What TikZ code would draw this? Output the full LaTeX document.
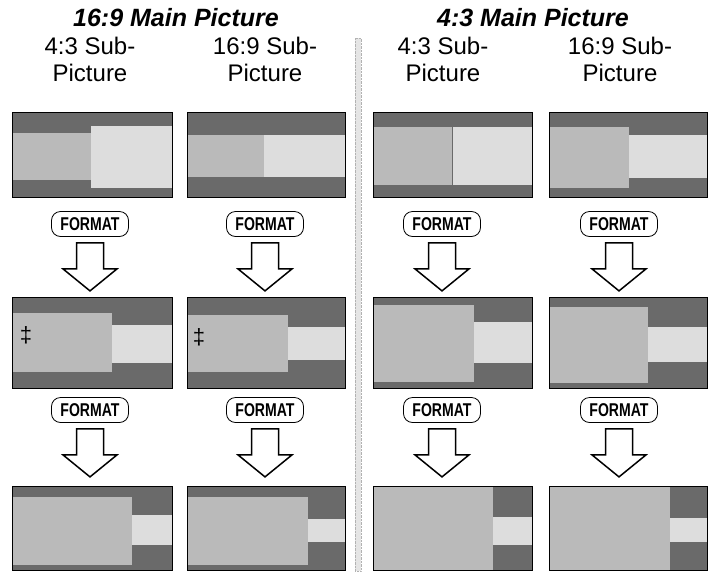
\documentclass[tikz,border=0pt]{standalone}
\usepackage{fontspec}
\setmainfont{Liberation Sans}
\newfontfamily\fmtfont[FakeStretch=0.76]{Liberation Sans Bold}
\usetikzlibrary{positioning}
\definecolor{scrdark}{HTML}{6A6A6A}
\definecolor{scrmid}{HTML}{BABABA}
\definecolor{scrlite}{HTML}{DDDDDD}

\begin{document}
\begin{tikzpicture}[x=1pt, y=-1pt, every node/.style={inner sep=0pt},
  head/.style={font=\fontsize{25}{25}\selectfont\bfseries\itshape},
  sub/.style={font=\fontsize{24}{27}\selectfont, align=center},
  fmtbtn/.style={draw, thick, rounded corners=9pt, minimum width=77pt, minimum height=25pt, font=\fmtfont\fontsize{18.5}{18.5}\selectfont},
  hollow/.style={draw, line width=1.5pt, fill=white, line join=miter},
  frame/.style={draw=black, line width=0.8pt},
  dagmark/.style={font=\fontsize{22}{22}\selectfont}]
\useasboundingbox (0,0) rectangle (710,571);

% divider between the two halves
\draw[gray!60, fill=gray!20, densely dotted] (355,38) rectangle (361,571);

% headings
\node[head] (main169) at (176,18) {16:9 Main Picture};
\node[head] (main43) at (533,18) {4:3 Main Picture};
\node[sub] (sub1) at (90,59) {4:3 Sub-\\Picture};
\node[sub] (sub2) at (265,59) {16:9 Sub-\\Picture};
\node[sub] (sub3) at (443,59) {4:3 Sub-\\Picture};
\node[sub] (sub4) at (620,59) {16:9 Sub-\\Picture};

% row 1 screens
\fill[scrdark] (12,112) rectangle (172,197);
\fill[scrmid] (12,133) rectangle (91,180);
\fill[scrlite] (91,126) rectangle (172,188);
\draw[frame] (12,112) rectangle (172,197);
\fill[scrdark] (187,112) rectangle (345,197);
\fill[scrmid] (187,135) rectangle (264,177);
\fill[scrlite] (264,135) rectangle (345,177);
\draw[frame] (187,112) rectangle (345,197);
\fill[scrdark] (373,112) rectangle (532,197);
\fill[scrmid] (373,127) rectangle (452,185);
\fill[scrlite] (452,127) rectangle (532,185);
\draw[scrdark] (452,127) -- (452,185);
\draw[frame] (373,112) rectangle (532,197);
\fill[scrdark] (549,112) rectangle (707,197);
\fill[scrmid] (549,127) rectangle (629,188);
\fill[scrlite] (629,135) rectangle (707,178);
\draw[frame] (549,112) rectangle (707,197);

% first FORMAT press
\node[fmtbtn] (fmt11) at (90,224) {FORMAT};
\node[fmtbtn] (fmt12) at (265,224) {FORMAT};
\node[fmtbtn] (fmt13) at (442,224) {FORMAT};
\node[fmtbtn] (fmt14) at (619,224) {FORMAT};
\foreach \b in {fmt11,fmt12,fmt13,fmt14}
  \draw[hollow] (\b.south) ++(-13.5,6) -- ++(0,26) -- ++(-13.5,0) -- ++(27,22) -- ++(27,-22) -- ++(-13.5,0) -- ++(0,-26) -- cycle;

% row 2 screens
\fill[scrdark] (12,297) rectangle (172,388);
\fill[scrmid] (12,313) rectangle (112,372);
\fill[scrlite] (112,325) rectangle (172,363);
\draw[frame] (12,297) rectangle (172,388);
\node[dagmark] (dag1) at (26,335) {‡};
\fill[scrdark] (187,297) rectangle (345,388);
\fill[scrmid] (187,315) rectangle (288,372);
\fill[scrlite] (288,327) rectangle (345,360);
\draw[frame] (187,297) rectangle (345,388);
\node[dagmark] (dag2) at (199,337) {‡};
\fill[scrdark] (373,297) rectangle (532,388);
\fill[scrmid] (373,305) rectangle (474,382);
\fill[scrlite] (474,322) rectangle (532,363);
\draw[frame] (373,297) rectangle (532,388);
\fill[scrdark] (549,297) rectangle (707,388);
\fill[scrmid] (549,307) rectangle (648,383);
\fill[scrlite] (648,327) rectangle (707,362);
\draw[frame] (549,297) rectangle (707,388);

% second FORMAT press
\node[fmtbtn] (fmt21) at (90,410) {FORMAT};
\node[fmtbtn] (fmt22) at (265,410) {FORMAT};
\node[fmtbtn] (fmt23) at (442,410) {FORMAT};
\node[fmtbtn] (fmt24) at (619,410) {FORMAT};
\foreach \b in {fmt21,fmt22,fmt23,fmt24}
  \draw[hollow] (\b.south) ++(-13.5,6) -- ++(0,26) -- ++(-13.5,0) -- ++(27,22) -- ++(27,-22) -- ++(-13.5,0) -- ++(0,-26) -- cycle;

% row 3 screens
\fill[scrdark] (12,486) rectangle (172,570);
\fill[scrmid] (12,497) rectangle (132,565);
\fill[scrlite] (132,515) rectangle (172,545);
\draw[frame] (12,486) rectangle (172,570);
\fill[scrdark] (187,486) rectangle (345,570);
\fill[scrmid] (187,497) rectangle (308,565);
\fill[scrlite] (308,519) rectangle (345,542);
\draw[frame] (187,486) rectangle (345,570);
\fill[scrdark] (373,486) rectangle (532,570);
\fill[scrmid] (373,486) rectangle (493,570);
\fill[scrlite] (493,517) rectangle (532,545);
\draw[frame] (373,486) rectangle (532,570);
\fill[scrdark] (549,486) rectangle (707,570);
\fill[scrmid] (549,486) rectangle (670,570);
\fill[scrlite] (670,518) rectangle (707,542);
\draw[frame] (549,486) rectangle (707,570);
\end{tikzpicture}
\end{document}
